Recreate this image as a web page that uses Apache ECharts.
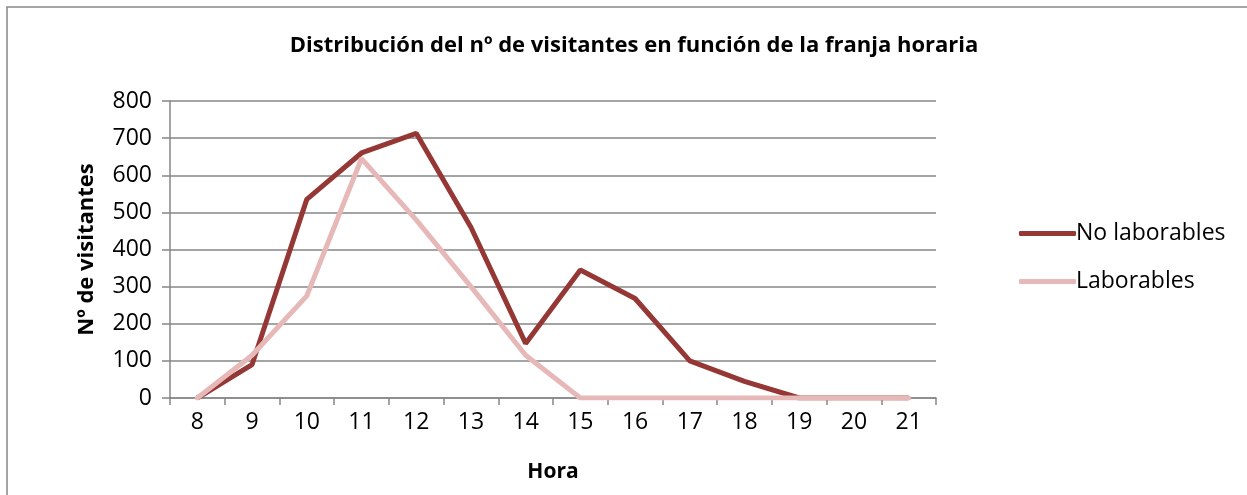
<!DOCTYPE html>
<html>
<head>
<meta charset="utf-8">
<script src="https://cdn.jsdelivr.net/npm/echarts@6/dist/echarts.min.js"></script>
<style>
  html, body { margin: 0; padding: 0; background: #fff; }
  #chart { width: 1247px; height: 495px; }
</style>
</head>
<body>
<div id="chart"></div>
<script>
const horas = ['8', '9', '10', '11', '12', '13', '14', '15', '16', '17', '18', '19', '20', '21'];
const noLaborables = [0, 90, 535, 660, 713, 460, 147, 345, 268, 100, 45, 0, 0, 0];
const laborables = [0, 115, 275, 645, 480, 300, 115, 0, 0, 0, 0, 0, 0, 0];
const yTicks = [0, 100, 200, 300, 400, 500, 600, 700, 800];

const font = '"Open Sans", sans-serif';
const gridGray = '#868686';

const chart = echarts.init(document.getElementById('chart'));

chart.setOption({
  animation: false,
  textStyle: { fontFamily: font },
  title: {
    text: 'Distribución del nº de visitantes en función de la franja horaria',
    left: 629,
    textAlign: 'center',
    top: 30,
    textStyle: { fontSize: 22, fontWeight: 'bold', color: '#000', fontFamily: font }
  },
  graphic: [{
    type: 'rect',
    shape: { x: 7, y: 7, width: 1300, height: 600 },
    style: { fill: 'none', stroke: gridGray, lineWidth: 1.5 },
    silent: true
  }],
  legend: {
    orient: 'vertical',
    left: 1014,
    top: 217,
    itemGap: 25,
    itemWidth: 57,
    itemHeight: 5,
    icon: 'roundRect',
    textStyle: { fontSize: 23, color: '#000', fontFamily: font, padding: [0, 0, 0, -5] },
    data: ['No laborables', 'Laborables']
  },
  grid: { left: 170, top: 101, right: 311, bottom: 97 },
  xAxis: {
    type: 'category',
    data: horas,
    boundaryGap: true,
    name: 'Hora',
    nameLocation: 'middle',
    nameGap: 64,
    nameTextStyle: { fontSize: 21, fontWeight: 'bold', color: '#000' },
    axisLine: { lineStyle: { color: gridGray, width: 1.5 } },
    axisTick: { show: true, length: 7, lineStyle: { color: gridGray, width: 1.5 } },
    axisLabel: { fontSize: 23, color: '#000', margin: 13 }
  },
  yAxis: {
    type: 'value',
    min: yTicks[0],
    max: yTicks[yTicks.length - 1],
    interval: 100,
    name: 'Nº de visitantes',
    nameLocation: 'middle',
    nameRotate: 90,
    nameGap: 72,
    nameTextStyle: { fontSize: 22, fontWeight: 'bold', color: '#000' },
    axisLine: { show: true, lineStyle: { color: gridGray, width: 1.5 } },
    axisTick: { show: true, length: 8, lineStyle: { color: gridGray, width: 1.5 } },
    axisLabel: { fontSize: 23, color: '#000', margin: 18 },
    splitLine: { lineStyle: { color: gridGray, width: 1.5 } }
  },
  series: [
    {
      name: 'No laborables',
      type: 'line',
      data: noLaborables,
      symbol: 'none',
      color: '#953735',
      lineStyle: { color: '#953735', width: 5 },
      z: 2
    },
    {
      name: 'Laborables',
      type: 'line',
      data: laborables,
      symbol: 'none',
      color: '#E6B9B8',
      lineStyle: { color: '#E6B9B8', width: 5, cap: 'round' },
      z: 3
    }
  ]
});
</script>
</body>
</html>
